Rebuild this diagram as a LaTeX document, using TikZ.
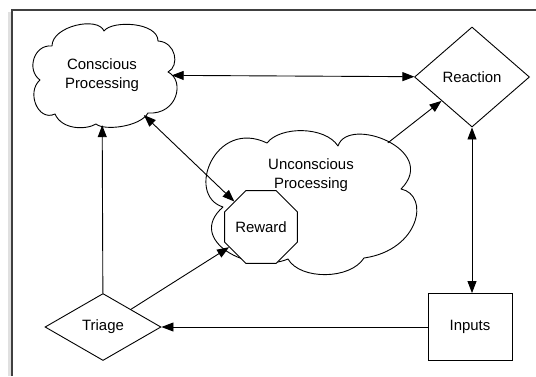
\documentclass[tikz,border=0pt]{standalone}
\usepackage{fontspec}
\setmainfont{Liberation Sans}
\usetikzlibrary{shapes.geometric,arrows.meta}
\begin{document}
\begin{tikzpicture}[x=1bp,y=-1bp,
  every node/.style={font=\fontsize{15}{19}\selectfont, align=center},
  shapeline/.style={draw=black, line width=0.9bp, fill=white},
  cloudline/.style={draw=black, line width=0.9bp, fill=white, line join=round},
  cloudarea/.style={ellipse, inner sep=0pt},
  diam/.style={shapeline, diamond, inner sep=0pt},
  conn/.style={line width=0.9bp, {Triangle[length=12bp,width=9bp]}-{Triangle[length=12bp,width=9bp]}},
  oneway/.style={line width=0.9bp, -{Triangle[length=12bp,width=9bp]}}
]
\useasboundingbox (0,0) rectangle (536,376);
\fill[white] (0,0) rectangle (536,376);
% frame with faint shadow
\fill[black!12] (8,12) rectangle (12,376);
\draw[line width=1.2bp, black!75] (12,376) -- (12,10) -- (536,10);

% cloud outlines
\draw[cloudline] (52,46)
  .. controls (52,26) and (98,16) .. (104,31)
  .. controls (112,20) and (158,22) .. (158,41)
  .. controls (176,42) and (180,66) .. (168,72)
  .. controls (185,80) and (178,115) .. (148,113)
  .. controls (140,127) and (104,131) .. (96,124)
  .. controls (86,130) and (62,130) .. (55,114)
  .. controls (38,122) and (26,92) .. (40,80)
  .. controls (26,70) and (34,44) .. (52,46) -- cycle;
\draw[cloudline] (223,207)
  .. controls (185,195) and (215,118) .. (267,143)
  .. controls (280,126) and (325,126) .. (338,146)
  .. controls (348,115) and (440,150) .. (401,189)
  .. controls (430,195) and (420,250) .. (364,258)
  .. controls (350,280) and (300,280) .. (288,259)
  .. controls (250,275) and (185,240) .. (223,207) -- cycle;

% nodes
\node[cloudarea, minimum width=139bp, minimum height=100bp] (cp) at (102,75) {Conscious\\Processing};
\node[diam, minimum width=115bp, minimum height=100bp] (re) at (472,77) {Reaction};
\node[cloudarea, minimum width=240bp, minimum height=156bp] (uc) at (311,203) {};
\node (uctext) at (311,175) {Unconscious\\Processing};
\node[shapeline, regular polygon, regular polygon sides=8, minimum size=73bp, inner sep=0pt] (rw) at (261,227) {Reward};
\node[diam, minimum width=116bp, minimum height=67bp] (tr) at (103,327) {Triage};
\node[shapeline, rectangle, minimum width=84bp, minimum height=67bp, inner sep=0pt] (in) at (470,327) {Inputs};

% connectors
\draw[conn] (cp) -- (re);
\draw[conn] (cp) -- (rw);
\draw[oneway] (uc) -- (re);
\draw[oneway] (tr) -- (cp);
\draw[oneway] (tr) -- (rw);
\draw[oneway] (in) -- (tr);
\draw[conn] (re.south) -- (re.south |- in.north);
\end{tikzpicture}
\end{document}
